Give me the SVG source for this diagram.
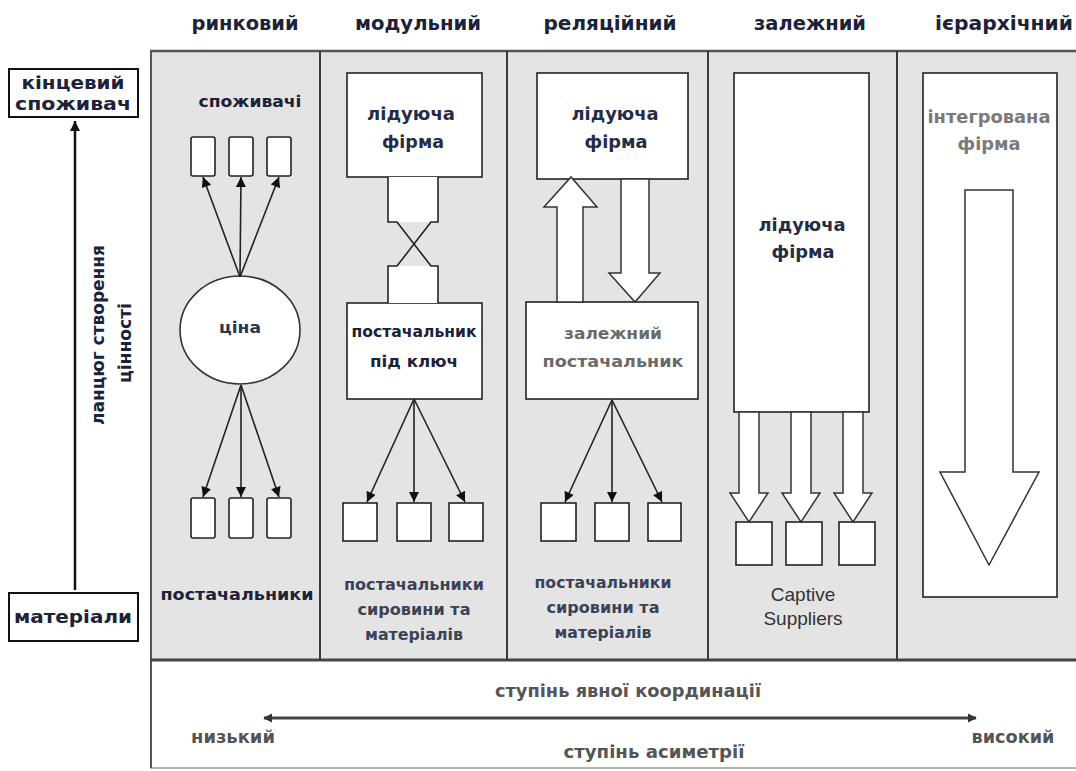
<svg xmlns="http://www.w3.org/2000/svg" width="1076" height="771" viewBox="0 0 1076 771">
<defs>
<style>
.t{font-family:"DejaVu Sans","Noto Sans",sans-serif;font-weight:bold;text-anchor:middle}
.hd{font-size:19px;fill:#1c2238}
.nd{font-size:17px;fill:#262c45}
.gr{fill:#6a6a6a}
.lg{fill:#7a7a7a}
.bt{font-size:17px;fill:#555}
.box{fill:#fff;stroke:#222;stroke-width:1.6}
.ln{stroke:#222;stroke-width:1.6;fill:none}
.blk{fill:#fff;stroke:#333;stroke-width:1.5}
.sep{stroke:#3a3a3a;stroke-width:2}
</style>
<marker id="ah" viewBox="0 0 10 10" refX="10" refY="5" markerWidth="11" markerHeight="10" orient="auto-start-reverse" markerUnits="userSpaceOnUse">
<path d="M0,0 L10,5 L0,10 z" fill="#111"/>
</marker>
<marker id="ah2" viewBox="0 0 10 10" refX="9" refY="5" markerWidth="9" markerHeight="10" orient="auto-start-reverse" markerUnits="userSpaceOnUse">
<path d="M0,0 L10,5 L0,10 z" fill="#333"/>
</marker>
</defs>
<rect width="1076" height="771" fill="#fff"/>

<!-- panel -->
<g id="panel">
<rect x="151" y="51" width="926" height="609" fill="#e4e4e4"/>
<rect x="151" y="660" width="926" height="108" fill="#fff" stroke="#9a9a9a" stroke-width="1.5"/>
<line x1="150" y1="51" x2="1076" y2="51" stroke="#555" stroke-width="2.5"/>
<line x1="151" y1="51" x2="151" y2="768" stroke="#555" stroke-width="2"/>
<line x1="150" y1="660" x2="1076" y2="660" stroke="#444" stroke-width="3"/>
<line class="sep" x1="320" y1="51" x2="320" y2="660"/>
<line class="sep" x1="507" y1="51" x2="507" y2="660"/>
<line class="sep" x1="708" y1="51" x2="708" y2="660"/>
<line class="sep" x1="897" y1="51" x2="897" y2="660"/>
</g>

<!-- headers -->
<g id="headers" class="t hd">
<text x="245" y="30" textLength="107" lengthAdjust="spacingAndGlyphs">ринковий</text>
<text x="418" y="30" textLength="126" lengthAdjust="spacingAndGlyphs">модульний</text>
<text x="610" y="30" textLength="133" lengthAdjust="spacingAndGlyphs">реляційний</text>
<text x="810" y="30" textLength="112" lengthAdjust="spacingAndGlyphs">залежний</text>
<text x="1004" y="30" textLength="138" lengthAdjust="spacingAndGlyphs">ієрархічний</text>
</g>

<!-- left axis -->
<g id="end-consumer">
<rect x="9" y="69" width="129" height="48" fill="#fff" stroke="#111" stroke-width="2"/>
<text class="t" x="73" y="89" font-size="17" fill="#1c2238" textLength="103" lengthAdjust="spacingAndGlyphs">кінцевий</text>
<text class="t" x="73" y="110" font-size="17" fill="#1c2238" textLength="116" lengthAdjust="spacingAndGlyphs">споживач</text>
</g>
<g id="materials">
<rect x="9" y="593" width="129" height="48" fill="#fff" stroke="#111" stroke-width="2"/>
<text class="t" x="73" y="623" font-size="17" fill="#1c2238" textLength="118" lengthAdjust="spacingAndGlyphs">матеріали</text>
</g>
<g id="value-chain-label" class="t" fill="#1c2238" font-size="18">
<text transform="translate(104,335) rotate(-90)" textLength="180" lengthAdjust="spacingAndGlyphs">ланцюг створення</text>
<text transform="translate(131,343) rotate(-90)" textLength="80" lengthAdjust="spacingAndGlyphs">цінності</text>
</g>

<!-- column 1: market -->
<g id="market">
<text class="t" x="250" y="107" font-size="16" fill="#1c2238" textLength="103" lengthAdjust="spacingAndGlyphs">споживачі</text>
<rect class="box" x="191" y="137" width="24" height="39" rx="2"/>
<rect class="box" x="229" y="137" width="24" height="39" rx="2"/>
<rect class="box" x="267" y="137" width="24" height="39" rx="2"/>
<ellipse cx="240" cy="330" rx="60" ry="54" fill="#fff" stroke="#333" stroke-width="1.6"/>
<text class="t" x="240" y="333" font-size="16" fill="#2a3552" textLength="42" lengthAdjust="spacingAndGlyphs">ціна</text>
<rect class="box" x="191" y="498" width="24" height="40" rx="2"/>
<rect class="box" x="229" y="498" width="24" height="40" rx="2"/>
<rect class="box" x="267" y="498" width="24" height="40" rx="2"/>
<text class="t" x="237" y="600" font-size="16" fill="#1c2238" textLength="153" lengthAdjust="spacingAndGlyphs">постачальники</text>
</g>

<!-- column 2: modular -->
<g id="modular">
<rect class="box" x="347" y="73" width="135" height="104"/>
<text class="t nd" x="411" y="120" textLength="88" lengthAdjust="spacingAndGlyphs">лідуюча</text>
<text class="t nd" x="413" y="148" textLength="62" lengthAdjust="spacingAndGlyphs">фірма</text>
<rect class="box" x="347" y="303" width="135" height="96"/>
<text class="t" x="414" y="337" font-size="16" fill="#1c2238" textLength="125" lengthAdjust="spacingAndGlyphs">постачальник</text>
<text class="t" x="414" y="367" font-size="16" fill="#1c2238" textLength="88" lengthAdjust="spacingAndGlyphs">під ключ</text>
<rect class="box" x="343" y="503" width="34" height="38"/>
<rect class="box" x="397" y="503" width="34" height="38"/>
<rect class="box" x="449" y="503" width="34" height="38"/>
<text class="t" x="414" y="590" font-size="16" fill="#3c4256" textLength="140" lengthAdjust="spacingAndGlyphs">постачальники</text>
<text class="t" x="414" y="615" font-size="16" fill="#3c4256" textLength="113" lengthAdjust="spacingAndGlyphs">сировини та</text>
<text class="t" x="414" y="640" font-size="16" fill="#3c4256" textLength="98" lengthAdjust="spacingAndGlyphs">матеріалів</text>
</g>

<!-- column 3: relational -->
<g id="relational">
<rect class="box" x="537" y="73" width="151" height="106"/>
<text class="t nd" x="615" y="120" textLength="87" lengthAdjust="spacingAndGlyphs">лідуюча</text>
<text class="t nd" x="616" y="148" textLength="63" lengthAdjust="spacingAndGlyphs">фірма</text>
<rect class="box" x="526" y="302" width="172" height="97"/>
<text class="t gr" x="613" y="339" font-size="16" textLength="98" lengthAdjust="spacingAndGlyphs">залежний</text>
<text class="t gr" x="613" y="367" font-size="16" textLength="141" lengthAdjust="spacingAndGlyphs">постачальник</text>
<rect class="box" x="541" y="503" width="35" height="38"/>
<rect class="box" x="595" y="503" width="34" height="38"/>
<rect class="box" x="648" y="503" width="33" height="38"/>
<text class="t" x="603" y="588" font-size="16" fill="#3c4256" textLength="137" lengthAdjust="spacingAndGlyphs">постачальники</text>
<text class="t" x="603" y="613" font-size="16" fill="#3c4256" textLength="113" lengthAdjust="spacingAndGlyphs">сировини та</text>
<text class="t" x="603" y="638" font-size="16" fill="#3c4256" textLength="97" lengthAdjust="spacingAndGlyphs">матеріалів</text>
</g>

<!-- column 4: captive -->
<g id="captive">
<rect class="box" x="734" y="73" width="135" height="339"/>
<text class="t nd" x="802" y="231" textLength="87" lengthAdjust="spacingAndGlyphs">лідуюча</text>
<text class="t nd" x="803" y="258" textLength="63" lengthAdjust="spacingAndGlyphs">фірма</text>
<rect class="box" x="736" y="522" width="36" height="43"/>
<rect class="box" x="786" y="522" width="36" height="43"/>
<rect class="box" x="839" y="522" width="36" height="43"/>
<text x="803" y="601" font-family="'Liberation Sans',Arial,sans-serif" font-size="19" fill="#333" text-anchor="middle">Captive</text>
<text x="803" y="625" font-family="'Liberation Sans',Arial,sans-serif" font-size="19" fill="#333" text-anchor="middle">Suppliers</text>
</g>

<!-- column 5: hierarchy -->
<g id="hierarchy">
<rect class="box" x="923" y="73" width="134" height="524"/>
<text class="t lg" x="989" y="123" font-size="17" textLength="123" lengthAdjust="spacingAndGlyphs">інтегрована</text>
<text class="t lg" x="989" y="150" font-size="17" textLength="63" lengthAdjust="spacingAndGlyphs">фірма</text>
<polygon class="blk" points="965,190 1013,190 1013,472 1039,472 989,565 940,472 965,472"/>
</g>

<!-- connectors -->
<g id="connectors">
<line x1="75" y1="590" x2="75" y2="121" stroke="#111" stroke-width="2.5" marker-end="url(#ah)"/>
<g class="ln">
<line x1="240" y1="277" x2="203" y2="177" marker-end="url(#ah)"/>
<line x1="240" y1="277" x2="241" y2="177" marker-end="url(#ah)"/>
<line x1="240" y1="277" x2="279" y2="177" marker-end="url(#ah)"/>
<line x1="241" y1="385" x2="203" y2="497" marker-end="url(#ah)"/>
<line x1="241" y1="385" x2="241" y2="497" marker-end="url(#ah)"/>
<line x1="241" y1="385" x2="279" y2="497" marker-end="url(#ah)"/>
<line x1="414" y1="399" x2="367" y2="502" marker-end="url(#ah)"/>
<line x1="414" y1="399" x2="414" y2="502" marker-end="url(#ah)"/>
<line x1="414" y1="399" x2="465" y2="502" marker-end="url(#ah)"/>
<line x1="612" y1="400" x2="565" y2="502" marker-end="url(#ah)"/>
<line x1="612" y1="400" x2="612" y2="502" marker-end="url(#ah)"/>
<line x1="612" y1="400" x2="662" y2="502" marker-end="url(#ah)"/>
</g>
<!-- modular interface -->
<rect x="388" y="177" width="50" height="45" fill="#fff"/>
<rect x="388" y="266" width="50" height="37" fill="#fff"/>
<path class="ln" d="M388,177 V222 H397 L431,266 H438 V303 M438,177 V222 H431 L397,266 H388 V303"/>
<!-- relational block arrows -->
<polygon class="blk" points="557,302 557,207 544,207 571,177 597,207 583,207 583,302"/>
<polygon class="blk" points="621,179 621,273 609,273 635,302 660,273 649,273 649,179"/>
<!-- captive block arrows -->
<polygon class="blk" points="739,412 739,493 730,493 749,522 768,493 759,493 759,412"/>
<polygon class="blk" points="791,412 791,493 782,493 801,522 820,493 811,493 811,412"/>
<polygon class="blk" points="843,412 843,493 834,493 853,522 872,493 863,493 863,412"/>
<!-- coordination axis -->
<line x1="264" y1="718" x2="976" y2="718" stroke="#444" stroke-width="3" marker-start="url(#ah2)" marker-end="url(#ah2)"/>
</g>

<!-- bottom labels -->
<g id="axis-labels" class="t bt">
<text x="628" y="697" textLength="266" lengthAdjust="spacingAndGlyphs">ступінь явної координації</text>
<text x="233" y="743" textLength="84" lengthAdjust="spacingAndGlyphs">низький</text>
<text x="1013" y="743" textLength="83" lengthAdjust="spacingAndGlyphs">високий</text>
<text x="654" y="758" textLength="181" lengthAdjust="spacingAndGlyphs">ступінь асиметрії</text>
</g>
</svg>
